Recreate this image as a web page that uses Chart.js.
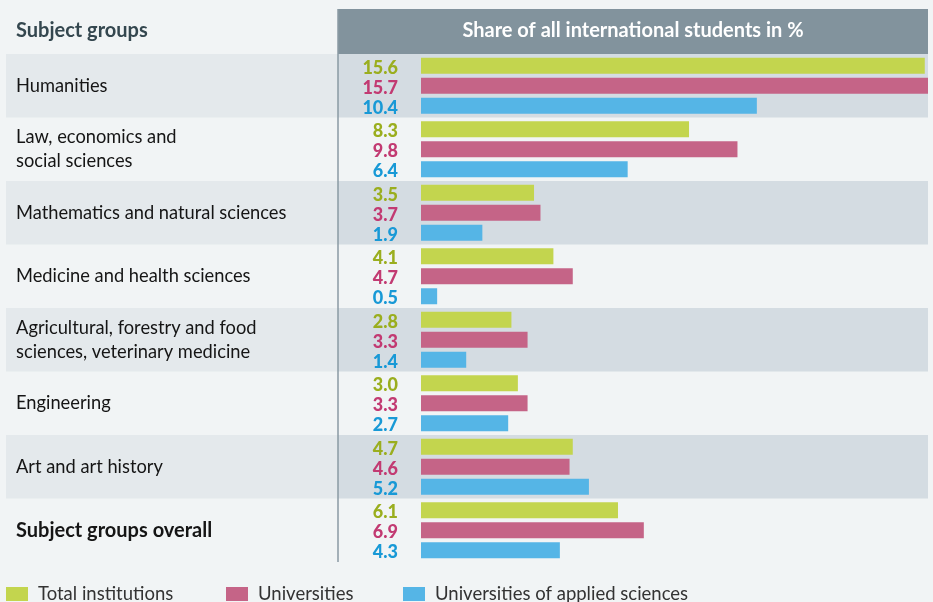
<!DOCTYPE html>
<html>
<head>
<meta charset="utf-8">
<script src="https://cdn.jsdelivr.net/npm/chart.js@4.4.1/dist/chart.umd.min.js"></script>
<style>
  html, body { margin: 0; padding: 0; background: #f1f4f5; }
  #wrap { width: 933px; height: 602px; position: relative; }
</style>
</head>
<body>
<div id="wrap"><canvas id="shareChart" width="933" height="602"></canvas></div>
<script>
// subject groups (multi-line labels as arrays)
const subjectGroups = [
  ["Humanities"],
  ["Law, economics and", "social sciences"],
  ["Mathematics and natural sciences"],
  ["Medicine and health sciences"],
  ["Agricultural, forestry and food", "sciences, veterinary medicine"],
  ["Engineering"],
  ["Art and art history"],
  ["Subject groups overall"]
];

const totalInstitutions = [15.6, 8.3, 3.5, 4.1, 2.8, 3.0, 4.7, 6.1];
const universities      = [15.7, 9.8, 3.7, 4.7, 3.3, 3.3, 4.6, 6.9];
const appliedSciences   = [10.4, 6.4, 1.9, 0.5, 1.4, 2.7, 5.2, 4.3];

const seriesNames = ["Total institutions", "Universities", "Universities of applied sciences"];
const barColors   = ["#c3d54e", "#c56487", "#55b5e6"];
const textColors  = ["#9aae1e", "#c23a72", "#1899d6"];

const FONT = "Lato, 'Noto Sans', sans-serif";
const LEFT_EDGE = 6;
const DIVIDER_X = 338;
const HEADER_TOP = 9;

// draws the table look: header, shaded rows, row labels, values, legend
const tablePlugin = {
  id: "tableLayout",
  beforeDatasetsDraw(chart) {
    const ctx = chart.ctx;
    const area = chart.chartArea;
    const yScale = chart.scales.y;
    const rowH = (area.bottom - area.top) / subjectGroups.length;

    ctx.save();
    // shaded rows
    subjectGroups.forEach((g, i) => {
      if (i % 2 !== 0) return;
      const cy = yScale.getPixelForValue(i);
      const top = cy - rowH / 2;
      ctx.fillStyle = "#e4e9ec";
      ctx.fillRect(LEFT_EDGE, top, DIVIDER_X - LEFT_EDGE, rowH);
      ctx.fillStyle = "#d4dce2";
      ctx.fillRect(DIVIDER_X, top, area.right - DIVIDER_X, rowH);
    });

    // header
    ctx.fillStyle = "#82939d";
    ctx.fillRect(DIVIDER_X, HEADER_TOP, area.right - DIVIDER_X, area.top - HEADER_TOP);
    ctx.fillStyle = "#ffffff";
    ctx.font = "bold 20px " + FONT;
    ctx.textAlign = "center";
    ctx.textBaseline = "middle";
    ctx.fillText("Share of all international students in %", (DIVIDER_X + area.right) / 2, 31);

    ctx.fillStyle = "#34474f";
    ctx.textAlign = "left";
    ctx.fillText("Subject groups", 16, 31);

    // divider line
    ctx.strokeStyle = "#8a9aa3";
    ctx.lineWidth = 1.5;
    ctx.beginPath();
    ctx.moveTo(DIVIDER_X, HEADER_TOP);
    ctx.lineTo(DIVIDER_X, area.bottom);
    ctx.stroke();

    // row labels
    subjectGroups.forEach((lines, i) => {
      const cy = yScale.getPixelForValue(i);
      const last = i === subjectGroups.length - 1;
      ctx.font = last ? "bold 20px " + FONT : "18.3px " + FONT;
      ctx.fillStyle = "#151515";
      ctx.textAlign = "left";
      const lh = 24;
      lines.forEach((line, j) => {
        ctx.fillText(line, 16, cy + (j - (lines.length - 1) / 2) * lh);
      });
    });
    ctx.restore();
  },
  afterDatasetsDraw(chart) {
    const ctx = chart.ctx;
    ctx.save();
    ctx.font = "900 18px " + FONT;
    ctx.textAlign = "right";
    ctx.textBaseline = "middle";
    chart.data.datasets.forEach((ds, d) => {
      const meta = chart.getDatasetMeta(d);
      ctx.fillStyle = textColors[d];
      meta.data.forEach((bar, i) => {
        ctx.fillText(ds.data[i].toFixed(1), 398, bar.y + 2);
      });
    });

    // legend
    const legendX = [6, 226, 403];
    ctx.font = "18.5px " + FONT;
    ctx.textAlign = "left";
    seriesNames.forEach((name, d) => {
      ctx.fillStyle = barColors[d];
      ctx.fillRect(legendX[d], 587, 22, 14);
      ctx.fillStyle = "#333333";
      ctx.fillText(name, legendX[d] + 32, 594);
    });
    ctx.restore();
  }
};

new Chart(document.getElementById("shareChart"), {
  type: "bar",
  data: {
    labels: subjectGroups,
    datasets: [
      { label: seriesNames[0], data: totalInstitutions, backgroundColor: barColors[0] },
      { label: seriesNames[1], data: universities, backgroundColor: barColors[1] },
      { label: seriesNames[2], data: appliedSciences, backgroundColor: barColors[2] }
    ]
  },
  options: {
    indexAxis: "y",
    responsive: false,
    animation: false,
    layout: { padding: { left: 421, right: 5, top: 54, bottom: 40 } },
    datasets: {
      bar: { categoryPercentage: 0.945, barPercentage: 0.8 }
    },
    scales: {
      x: { display: false, min: 0, max: 15.7 },
      y: { display: false }
    },
    plugins: {
      legend: { display: false },
      tooltip: { enabled: false }
    }
  },
  plugins: [tablePlugin]
});
</script>
</body>
</html>
